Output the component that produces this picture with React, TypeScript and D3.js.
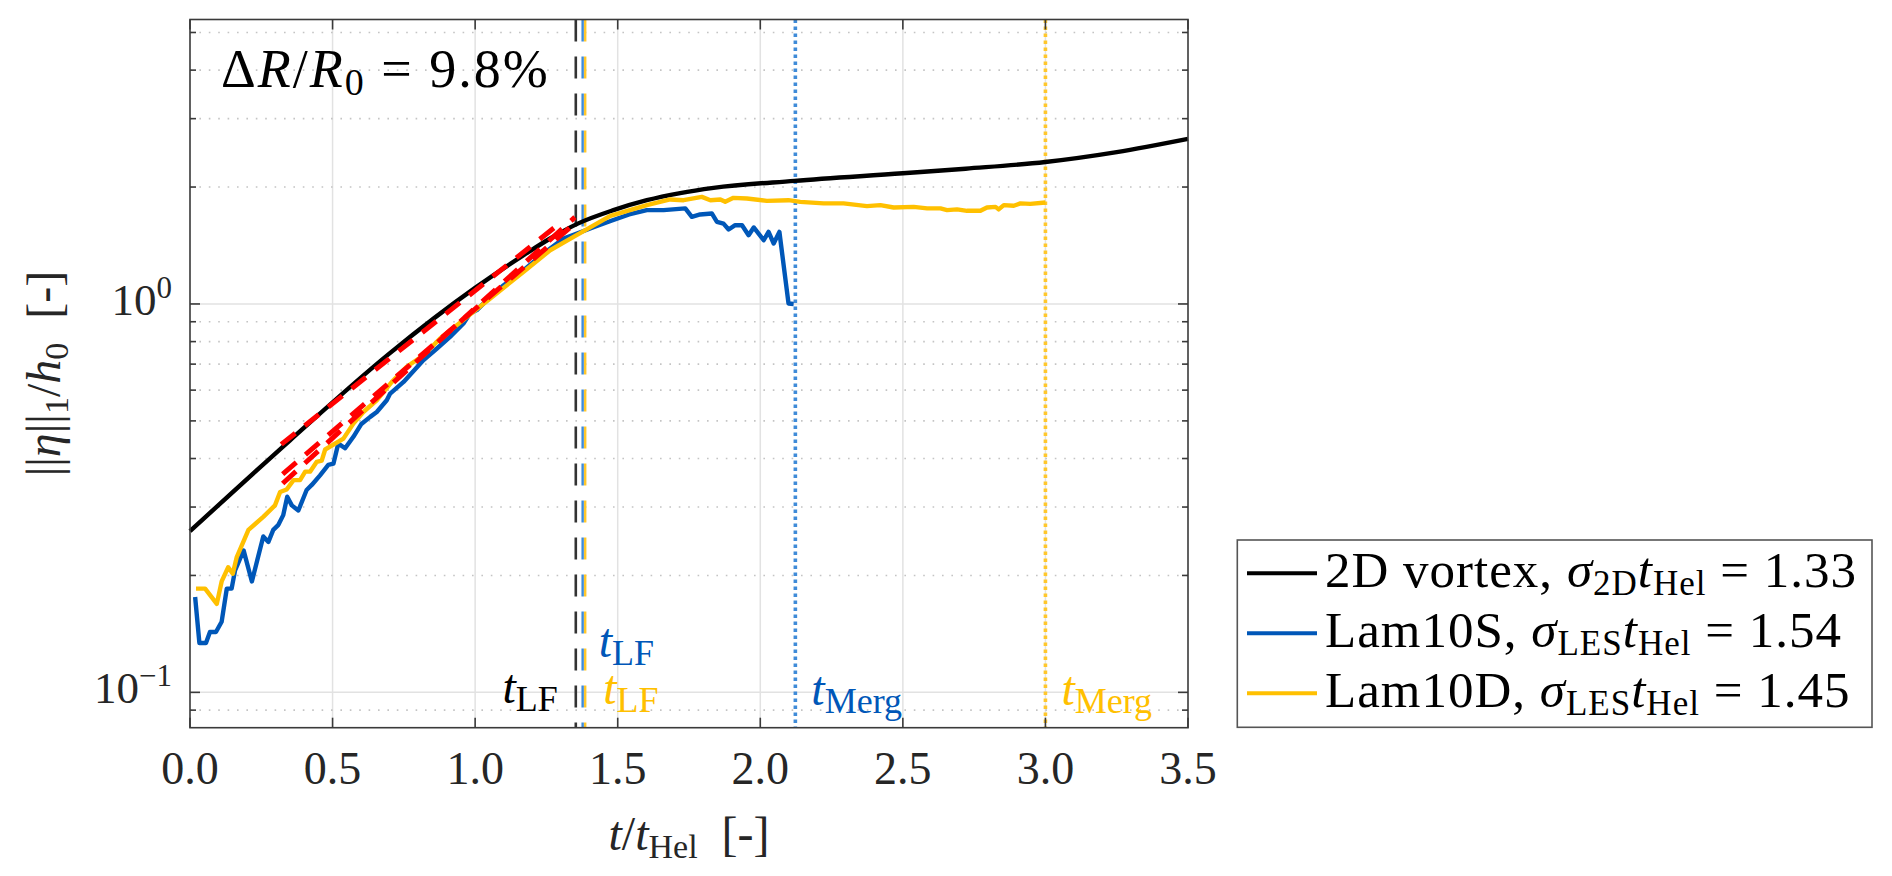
import * as d3 from 'd3';

// Axes: t / t_Hel on x, ||eta||_1 / h_0 on a log y axis
const xTickValues = [0, 0.5, 1, 1.5, 2, 2.5, 3, 3.5];
const xTickLabels = ['0.0', '0.5', '1.0', '1.5', '2.0', '2.5', '3.0', '3.5'];
const yDecades = [0.1, 1];
const yDecadeExponents = ['\u22121', '0'];
const yMinorTicks = [0.09, 0.2, 0.3, 0.4, 0.5, 0.6, 0.7, 0.8, 0.9, 2, 3, 4, 5];

// 2D vortex (black)
const vortexT = [0, 0.35, 0.7, 1.0, 1.17, 1.263, 1.36, 1.485, 1.602, 1.719, 1.836, 2.12, 2.5, 2.72, 3.0, 3.25, 3.5];
const vortexV = [0.26, 0.445, 0.746, 1.1, 1.335, 1.474, 1.61, 1.744, 1.85, 1.93, 1.99, 2.075, 2.17, 2.23, 2.32, 2.46, 2.66];

// Lam10S (blue)
const lam10sT = [
  0.018, 0.033, 0.056, 0.07, 0.091, 0.111, 0.129, 0.146, 0.158, 0.188, 0.217, 0.257, 0.275, 0.292,
  0.31, 0.327, 0.341, 0.357, 0.38, 0.409, 0.427, 0.456, 0.485, 0.503, 0.52, 0.544, 0.573, 0.6,
  0.632, 0.655, 0.69, 0.702, 0.749, 0.819, 0.866, 0.912, 0.959, 0.982, 1.006, 1.053, 1.1, 1.17,
  1.24, 1.31, 1.357, 1.42, 1.48, 1.54, 1.602, 1.661, 1.737, 1.76, 1.789, 1.83, 1.848, 1.871,
  1.889, 1.912, 1.936, 1.959, 1.977, 2.012, 2.029, 2.047, 2.067, 2.099, 2.117,
];
const lam10sV = [
  0.176, 0.134, 0.134, 0.143, 0.143, 0.152, 0.185, 0.185, 0.206, 0.232, 0.193, 0.252, 0.244, 0.262,
  0.27, 0.286, 0.319, 0.303, 0.294, 0.332, 0.342, 0.362, 0.385, 0.388, 0.437, 0.425, 0.455, 0.49,
  0.512, 0.527, 0.565, 0.588, 0.63, 0.717, 0.768, 0.823, 0.891, 0.945, 0.964, 1.043, 1.118, 1.222,
  1.349, 1.474, 1.519, 1.58, 1.64, 1.7, 1.744, 1.744, 1.762, 1.676, 1.7, 1.71, 1.627, 1.61,
  1.555, 1.595, 1.595, 1.503, 1.574, 1.459, 1.533, 1.431, 1.533, 1.003, 1.0,
];

// Lam10D (yellow)
const lam10dT = [
  0.021, 0.053, 0.094, 0.111, 0.134, 0.15, 0.164, 0.205, 0.257, 0.298, 0.316, 0.339, 0.363, 0.386,
  0.404, 0.421, 0.444, 0.462, 0.474, 0.538, 0.573, 0.608, 0.655, 0.708, 0.76, 0.819, 0.877, 0.936,
  0.994, 1.053, 1.17, 1.263, 1.345, 1.474, 1.602, 1.684, 1.731, 1.795, 1.825, 1.86, 1.877, 1.906,
  1.953, 2.023, 2.099, 2.14, 2.222, 2.292, 2.374, 2.421, 2.468, 2.538, 2.585, 2.632, 2.655, 2.69,
  2.725, 2.772, 2.795, 2.825, 2.836, 2.854, 2.889, 2.912, 2.947, 3.0,
];
const lam10dV = [
  0.185, 0.185, 0.169, 0.193, 0.21, 0.202, 0.223, 0.262, 0.283, 0.303, 0.328, 0.333, 0.352, 0.352,
  0.37, 0.37, 0.392, 0.395, 0.422, 0.45, 0.492, 0.527, 0.565, 0.63, 0.689, 0.738, 0.815, 0.882,
  0.954, 1.033, 1.21, 1.375, 1.488, 1.685, 1.797, 1.858, 1.85, 1.887, 1.85, 1.858, 1.832, 1.876,
  1.869, 1.843, 1.85, 1.832, 1.815, 1.815, 1.786, 1.797, 1.772, 1.778, 1.762, 1.762, 1.744, 1.752,
  1.737, 1.737, 1.772, 1.778, 1.752, 1.797, 1.79, 1.815, 1.81, 1.825,
];

// exponential fits (red dashed), end points
const fit2dT = [0.32, 1.29];
const fit2dV = [0.435, 1.598];
const fitLam10dT = [0.325, 1.35];
const fitLam10dV = [0.3645, 1.613];
const fitLam10sT = [0.325, 1.35];
const fitLam10sV = [0.345, 1.673];

// event times
const tLfVortex = 1.353;
const tLfLam10s = 1.377;
const tLfLam10d = 1.386;
const tMergLam10s = 2.123;
const tMergLam10d = 3.0;

// legend
const legendNames = ['2D vortex, ', 'Lam10S, ', 'Lam10D, '];
const legendSigma = ['2D', 'LES', 'LES'];
const legendValues = ['1.33', '1.54', '1.45'];

const COLORS = {
  vortex: '#000000',
  lam10s: '#0057B8',
  lam10d: '#FFC000',
  lam10sLight: '#3F8BD8',
  lam10dLight: '#FFC72C',
  fit: '#FF0000',
  axis: '#3a3a3a',
  text: '#262626',
};
const legendColors = [COLORS.vortex, COLORS.lam10s, COLORS.lam10d];

const FONT = "'Liberation Serif', 'DejaVu Serif', serif";
const plot = { left: 190, right: 1188, top: 19.5, bottom: 727.7 };

type Pt = { t: number; v: number };
const zip = (ts: number[], vs: number[]): Pt[] => ts.map((t, i) => ({ t, v: vs[i] }));

function TSub({ x, y, color, base, sub, anchor }: { x: number; y: number; color: string; base: string; sub: string; anchor?: string }) {
  return (
    <text x={x} y={y} fontSize={48} textAnchor={anchor} fill={color}>
      <tspan fontStyle="italic">{base}</tspan>
      <tspan fontSize={36} dy={8}>
        {sub}
      </tspan>
    </text>
  );
}

export default function App() {
  const x = d3.scaleLinear().domain([0, 3.5]).range([plot.left, plot.right]);
  const y = d3.scaleLog().domain([0.0811, 5.4]).range([plot.bottom, plot.top]);

  const line = d3
    .line<Pt>()
    .x((d) => x(d.t))
    .y((d) => y(d.v));
  const smooth = d3
    .line<Pt>()
    .x((d) => x(d.t))
    .y((d) => y(d.v))
    .curve(d3.curveMonotoneX);

  const drop = 8; // subscript shift

  return (
    <svg
      width={1892}
      height={876}
      style={{ position: 'absolute', left: 0, top: 0, background: '#fff', fontFamily: FONT }}
      fill={COLORS.text}
    >
      {/* grid */}
      {xTickValues.slice(1, -1).map((t) => (
        <line key={'gx' + t} x1={x(t)} x2={x(t)} y1={plot.top} y2={plot.bottom} stroke="#e2e2e2" strokeWidth={1.5} />
      ))}
      {yDecades.map((v) => (
        <line key={'gy' + v} x1={plot.left} x2={plot.right} y1={y(v)} y2={y(v)} stroke="#e2e2e2" strokeWidth={1.5} />
      ))}
      {yMinorTicks.map((v) => (
        <line
          key={'gm' + v}
          x1={plot.left}
          x2={plot.right}
          y1={y(v)}
          y2={y(v)}
          stroke="#c4c4c4"
          strokeWidth={1.6}
          strokeDasharray="1.6 7.8"
        />
      ))}

      {/* event lines */}
      <line x1={x(tLfVortex)} x2={x(tLfVortex)} y1={plot.top} y2={plot.bottom} stroke="#333" strokeWidth={2.6} strokeDasharray="22 15" />
      <line x1={x(tLfLam10s)} x2={x(tLfLam10s)} y1={plot.top} y2={plot.bottom} stroke={COLORS.lam10sLight} strokeWidth={2.4} strokeDasharray="22 15" />
      <line x1={x(tLfLam10d)} x2={x(tLfLam10d)} y1={plot.top} y2={plot.bottom} stroke={COLORS.lam10dLight} strokeWidth={2.4} strokeDasharray="22 15" />
      <line x1={x(tMergLam10s)} x2={x(tMergLam10s)} y1={plot.top} y2={plot.bottom} stroke={COLORS.lam10sLight} strokeWidth={3.6} strokeDasharray="3.6 3.4" />
      <line x1={x(tMergLam10d)} x2={x(tMergLam10d)} y1={plot.top} y2={plot.bottom} stroke={COLORS.lam10dLight} strokeWidth={3.6} strokeDasharray="3.6 3.4" />

      {/* series */}
      <path d={smooth(zip(vortexT, vortexV)) ?? ''} fill="none" stroke={COLORS.vortex} strokeWidth={4.4} />
      <path d={line(zip(lam10sT, lam10sV)) ?? ''} fill="none" stroke={COLORS.lam10s} strokeWidth={4.4} strokeLinejoin="round" />
      <path d={line(zip(lam10dT, lam10dV)) ?? ''} fill="none" stroke={COLORS.lam10d} strokeWidth={4.4} strokeLinejoin="round" />

      {/* fits */}
      {[zip(fit2dT, fit2dV), zip(fitLam10dT, fitLam10dV), zip(fitLam10sT, fitLam10sV)].map((d, i) => (
        <path key={'fit' + i} d={line(d) ?? ''} fill="none" stroke={COLORS.fit} strokeWidth={5} strokeDasharray="18 12" />
      ))}

      {/* axes box */}
      <rect
        x={plot.left}
        y={plot.top}
        width={plot.right - plot.left}
        height={plot.bottom - plot.top}
        fill="none"
        stroke={COLORS.axis}
        strokeWidth={1.6}
      />
      {xTickValues.map((t) => (
        <g key={'xt' + t} stroke={COLORS.axis} strokeWidth={1.6}>
          <line x1={x(t)} x2={x(t)} y1={plot.bottom} y2={plot.bottom - 10} />
          <line x1={x(t)} x2={x(t)} y1={plot.top} y2={plot.top + 10} />
        </g>
      ))}
      {yDecades.map((v) => (
        <g key={'yt' + v} stroke={COLORS.axis} strokeWidth={1.6}>
          <line x1={plot.left} x2={plot.left + 10} y1={y(v)} y2={y(v)} />
          <line x1={plot.right} x2={plot.right - 10} y1={y(v)} y2={y(v)} />
        </g>
      ))}
      {yMinorTicks.map((v) => (
        <g key={'ym' + v} stroke={COLORS.axis} strokeWidth={1.6}>
          <line x1={plot.left} x2={plot.left + 6} y1={y(v)} y2={y(v)} />
          <line x1={plot.right} x2={plot.right - 6} y1={y(v)} y2={y(v)} />
        </g>
      ))}

      {/* tick labels */}
      {xTickValues.map((t, i) => (
        <text key={'xl' + t} x={x(t)} y={784} fontSize={46} textAnchor="middle">
          {xTickLabels[i]}
        </text>
      ))}
      {yDecades.map((v, i) => (
        <text key={'yl' + v} x={plot.left - 18} y={y(v) + 11} fontSize={45} textAnchor="end">
          10
          <tspan fontSize={31} dy={-17}>
            {yDecadeExponents[i]}
          </tspan>
        </text>
      ))}

      {/* axis labels */}
      <text x={(plot.left + plot.right) / 2} y={850} fontSize={48} textAnchor="middle">
        <tspan fontStyle="italic">t</tspan>/<tspan fontStyle="italic">t</tspan>
        <tspan fontSize={34} dy={drop}>Hel</tspan>
        <tspan dy={-drop}>{'\u2002[-]'}</tspan>
      </text>
      <text transform={`translate(60,${(plot.top + plot.bottom) / 2}) rotate(-90)`} fontSize={48} textAnchor="middle">
        ||<tspan fontStyle="italic">η</tspan>||
        <tspan fontSize={34} dy={drop}>1</tspan>
        <tspan dy={-drop}>/</tspan>
        <tspan fontStyle="italic">h</tspan>
        <tspan fontSize={34} dy={drop}>0</tspan>
        <tspan dy={-drop}>{'\u2002[-]'}</tspan>
      </text>

      {/* annotation */}
      <text x={221} y={87} fontSize={54} letterSpacing={2} fill="#000">
        Δ<tspan fontStyle="italic">R</tspan>/<tspan fontStyle="italic">R</tspan>
        <tspan fontSize={38} dy={drop}>0</tspan>
        <tspan dy={-drop}>{' = 9.8%'}</tspan>
      </text>

      {/* event labels */}
      <TSub x={x(tLfVortex) - 18} y={703} color="#000" base="t" sub="LF" anchor="end" />
      <TSub x={x(tLfLam10s) + 16} y={657} color={COLORS.lam10s} base="t" sub="LF" />
      <TSub x={x(tLfLam10d) + 18} y={704} color={COLORS.lam10d} base="t" sub="LF" />
      <TSub x={x(tMergLam10s) + 16} y={705} color={COLORS.lam10s} base="t" sub="Merg" />
      <TSub x={x(tMergLam10d) + 16} y={705} color={COLORS.lam10d} base="t" sub="Merg" />

      {/* legend */}
      <rect x={1237.3} y={540} width={634.7} height={187.3} fill="#fff" stroke="#555" strokeWidth={1.6} />
      {legendNames.map((name, i) => (
        <g key={name}>
          <line x1={1247} x2={1317} y1={573.3 + i * 60} y2={573.3 + i * 60} stroke={legendColors[i]} strokeWidth={4} />
          <text x={1325} y={587 + i * 60} fontSize={51} letterSpacing={1} fill="#000">
            {name}
            <tspan fontStyle="italic">σ</tspan>
            <tspan fontSize={35} dy={drop}>{legendSigma[i]}</tspan>
            <tspan fontStyle="italic" dy={-drop}>t</tspan>
            <tspan fontSize={35} dy={drop}>Hel</tspan>
            <tspan dy={-drop}>{' = ' + legendValues[i]}</tspan>
          </text>
        </g>
      ))}
    </svg>
  );
}
